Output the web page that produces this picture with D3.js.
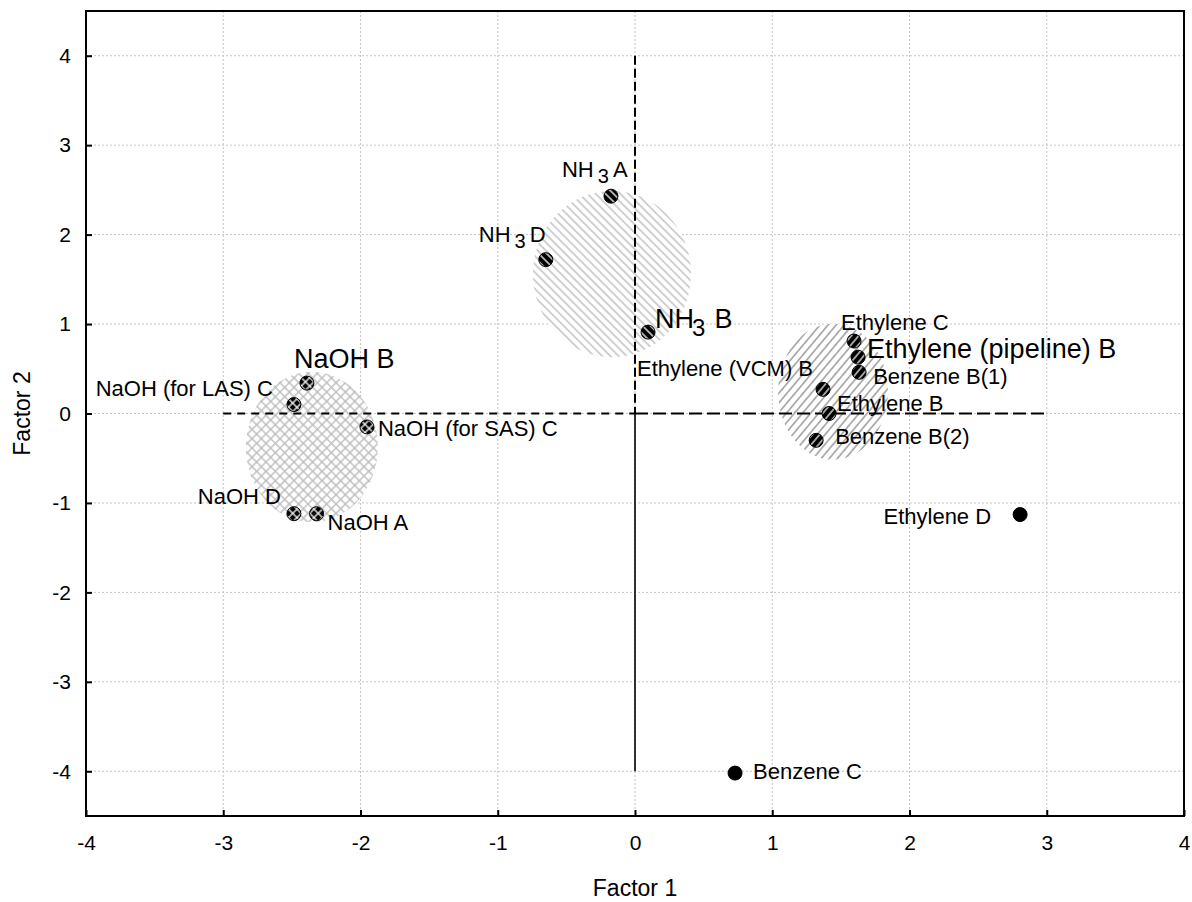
<!DOCTYPE html>
<html>
<head>
<meta charset="utf-8">
<script src="https://cdn.jsdelivr.net/npm/d3@7"></script>
<style>
  html, body { margin: 0; padding: 0; background: #fff; }
  text { font-family: "Liberation Sans", Arial, sans-serif; fill: #000; }
</style>
</head>
<body>
<svg id="chart" width="1192" height="902"></svg>
<script>
// ---------------- data ----------------
const names = [
  "NaOH B", "NaOH (for LAS) C", "NaOH (for SAS) C", "NaOH D", "NaOH A",
  "NH3 A", "NH3 D", "NH3 B",
  "Ethylene C", "Ethylene (pipeline) B", "Benzene B(1)", "Ethylene (VCM) B",
  "Ethylene B", "Benzene B(2)", "Ethylene D", "Benzene C"
];
const factor1 = [
  -2.39, -2.485, -1.953, -2.485, -2.32,
  -0.175, -0.65, 0.095,
  1.596, 1.625, 1.633, 1.37,
  1.414, 1.32, 2.806, 0.729
];
const factor2 = [
  0.34, 0.10, -0.15, -1.12, -1.12,
  2.43, 1.72, 0.91,
  0.81, 0.63, 0.46, 0.27,
  0.00, -0.30, -1.13, -4.02
];
const groups = [
  "naoh", "naoh", "naoh", "naoh", "naoh",
  "nh3", "nh3", "nh3",
  "eth", "eth", "eth", "eth",
  "eth", "eth", "solid", "solid"
];

// cluster regions (data units)
const regionGroups = ["naoh", "nh3", "eth"];
const regionCx = [-2.354, -0.168, 1.443];
const regionCy = [-0.375, 1.56, 0.244];
const regionRx = [0.48, 0.576, 0.40];
const regionRy = [0.84, 0.93, 0.76];

const xTicks = [-4, -3, -2, -1, 0, 1, 2, 3, 4];
const yTicks = [-4, -3, -2, -1, 0, 1, 2, 3, 4];
const xTitle = "Factor 1";
const yTitle = "Factor 2";

// ---------------- layout ----------------
const labelLayout = {
  "NaOH B":                {dx: -13, dy: -15, anchor: "start", big: true},
  "NaOH (for LAS) C":      {dx: -21, dy: -9,  anchor: "end"},
  "NaOH (for SAS) C":      {dx: 11,  dy: 9,   anchor: "start"},
  "NaOH D":                {dx: -13, dy: -10, anchor: "end"},
  "NaOH A":                {dx: 11,  dy: 16,  anchor: "start"},
  "NH3 A":                 {dx: -49, dy: -19, anchor: "start"},
  "NH3 D":                 {dx: -67, dy: -18, anchor: "start"},
  "NH3 B":                 {dx: 7,   dy: -4,  anchor: "start", big: true},
  "Ethylene C":            {dx: -13, dy: -11, anchor: "start"},
  "Ethylene (pipeline) B": {dx: 9,   dy: 1,   anchor: "start", big: true},
  "Benzene B(1)":          {dx: 14,  dy: 12,  anchor: "start"},
  "Ethylene (VCM) B":      {dx: -10, dy: -13, anchor: "end"},
  "Ethylene B":            {dx: 8,   dy: -3,  anchor: "start"},
  "Benzene B(2)":          {dx: 19,  dy: 4,   anchor: "start"},
  "Ethylene D":            {dx: -29, dy: 9,   anchor: "end"},
  "Benzene C":             {dx: 18,  dy: 6,   anchor: "start"}
};

const svg = d3.select("#chart");
const pLeft = 86, pRight = 1184, pTop = 11, pBottom = 816;

const x = d3.scaleLinear().domain([-4, 4]).range([pLeft, pRight]);
const y = d3.scaleLinear().domain([-4.5, 4.5]).range([pBottom, pTop]);

// ---------------- patterns ----------------
const defs = svg.append("defs");
function linePattern(id, size, angle, stroke, width, bg, cross) {
  const p = defs.append("pattern")
    .attr("id", id)
    .attr("patternUnits", "userSpaceOnUse")
    .attr("width", size).attr("height", size)
    .attr("patternTransform", `rotate(${angle})`);
  if (bg) p.append("rect").attr("width", size).attr("height", size).attr("fill", bg);
  p.append("line").attr("x1", 0).attr("y1", 0).attr("x2", 0).attr("y2", size)
    .attr("stroke", stroke).attr("stroke-width", width);
  p.append("line").attr("x1", size).attr("y1", 0).attr("x2", size).attr("y2", size)
    .attr("stroke", stroke).attr("stroke-width", width);
  if (cross) {
    p.append("line").attr("x1", 0).attr("y1", 0).attr("x2", size).attr("y2", 0)
      .attr("stroke", stroke).attr("stroke-width", width);
    p.append("line").attr("x1", 0).attr("y1", size).attr("x2", size).attr("y2", size)
      .attr("stroke", stroke).attr("stroke-width", width);
  }
}
// region fills
linePattern("reg-naoh", 6.6, 45, "#b8b8b8", 1.3, "#fff", true);
linePattern("reg-nh3", 5.8, -45, "#b8b8b8", 1.3, "#fff", false);
linePattern("reg-eth", 6.2, 40, "#8c8c8c", 1.3, "#fff", false);
// marker fills
linePattern("mk-naoh", 6.0, 45, "#fff", 1.3, "#000", true);
linePattern("mk-nh3", 5.6, -45, "#fff", 1.3, "#000", false);
linePattern("mk-eth", 5.6, 40, "#fff", 1.2, "#000", false);

// ---------------- grid ----------------
const grid = svg.append("g");
grid.selectAll("line.gx").data(xTicks.filter(t => t > -4 && t < 4)).join("line")
  .attr("x1", d => x(d)).attr("x2", d => x(d))
  .attr("y1", pTop).attr("y2", pBottom)
  .attr("stroke", "#c4c4c4").attr("stroke-width", 1).attr("stroke-dasharray", "2,2");
grid.selectAll("line.gy").data(yTicks).join("line")
  .attr("y1", d => y(d)).attr("y2", d => y(d))
  .attr("x1", pLeft).attr("x2", pRight)
  .attr("stroke", "#c4c4c4").attr("stroke-width", 1).attr("stroke-dasharray", "2,2");

// ---------------- regions ----------------
svg.append("g").selectAll("ellipse").data(regionGroups).join("ellipse")
  .attr("cx", (d, i) => x(regionCx[i]))
  .attr("cy", (d, i) => y(regionCy[i]))
  .attr("rx", (d, i) => x(regionRx[i]) - x(0))
  .attr("ry", (d, i) => y(0) - y(regionRy[i]))
  .attr("fill", d => `url(#reg-${d})`);

// ---------------- reference lines ----------------
const ref = svg.append("g").attr("fill", "none").attr("stroke", "#000");
ref.append("line").attr("x1", x(0)).attr("x2", x(0)).attr("y1", y(4)).attr("y2", y(0))
  .attr("stroke-width", 2).attr("stroke-dasharray", "9,4");
ref.append("line").attr("x1", x(0)).attr("x2", x(0)).attr("y1", y(0)).attr("y2", y(-4))
  .attr("stroke-width", 1.6);
ref.append("line").attr("x1", x(-3)).attr("x2", x(0)).attr("y1", y(0)).attr("y2", y(0))
  .attr("stroke-width", 2).attr("stroke-dasharray", "8,6");
ref.append("line").attr("x1", x(0)).attr("x2", x(3)).attr("y1", y(0)).attr("y2", y(0))
  .attr("stroke-width", 2).attr("stroke-dasharray", "13,5");

// ---------------- markers ----------------
const pts = names.map((n, i) => ({name: n, f1: factor1[i], f2: factor2[i], g: groups[i]}));
svg.append("g").selectAll("circle").data(pts).join("circle")
  .attr("cx", d => x(d.f1)).attr("cy", d => y(d.f2)).attr("r", 7)
  .attr("fill", d => d.g === "solid" ? "#000" : `url(#mk-${d.g})`)
  .attr("stroke", "#000").attr("stroke-width", 1);

// ---------------- labels ----------------
const lab = svg.append("g");
pts.forEach(d => {
  const L = labelLayout[d.name];
  const fs = L.big ? 27 : 22;
  const t = lab.append("text")
    .attr("x", x(d.f1) + L.dx).attr("y", y(d.f2) + L.dy)
    .attr("text-anchor", L.anchor)
    .attr("font-size", fs);
  const m = d.name.match(/^NH3 (.*)$/);
  if (m) {
    t.append("tspan").text("NH");
    t.append("tspan").text("3").attr("font-size", L.big ? 24 : 20)
      .attr("dx", L.big ? -2 : 4).attr("dy", L.big ? 8 : 6);
    t.append("tspan").text(m[1]).attr("dx", L.big ? 9 : 4).attr("dy", L.big ? -8 : -6);
  } else {
    t.text(d.name);
  }
});

// ---------------- frame & axes ----------------
svg.append("rect").attr("x", pLeft).attr("y", pTop)
  .attr("width", pRight - pLeft).attr("height", pBottom - pTop)
  .attr("fill", "none").attr("stroke", "#000").attr("stroke-width", 2);

const xAxis = d3.axisBottom(x).tickValues(xTicks).tickSizeInner(-6).tickSizeOuter(0)
  .tickPadding(19.5).tickFormat(d3.format("d"));
const gx = svg.append("g").attr("transform", `translate(0,${pBottom})`).call(xAxis);
gx.select(".domain").remove();
gx.selectAll(".tick line").attr("stroke", "#000").attr("stroke-width", 2);
gx.selectAll(".tick text").attr("font-size", 21).attr("font-family", "Liberation Sans, Arial, sans-serif")
  .text(d => d < 0 ? "-" + Math.abs(d) : d);

const yAxis = d3.axisLeft(y).tickValues(yTicks).tickSizeInner(-6).tickSizeOuter(0)
  .tickPadding(15).tickFormat(d3.format("d"));
const gy = svg.append("g").attr("transform", `translate(${pLeft},0)`).call(yAxis);
gy.select(".domain").remove();
gy.selectAll(".tick line").attr("stroke", "#000").attr("stroke-width", 2);
gy.selectAll(".tick text").attr("font-size", 21).attr("font-family", "Liberation Sans, Arial, sans-serif")
  .text(d => d < 0 ? "-" + Math.abs(d) : d);

svg.append("text").attr("x", x(0)).attr("y", 896).attr("text-anchor", "middle")
  .attr("font-size", 23).text(xTitle);
svg.append("text").attr("transform", `translate(30,${y(0)}) rotate(-90)`)
  .attr("text-anchor", "middle").attr("font-size", 23).text(yTitle);
</script>
</body>
</html>
